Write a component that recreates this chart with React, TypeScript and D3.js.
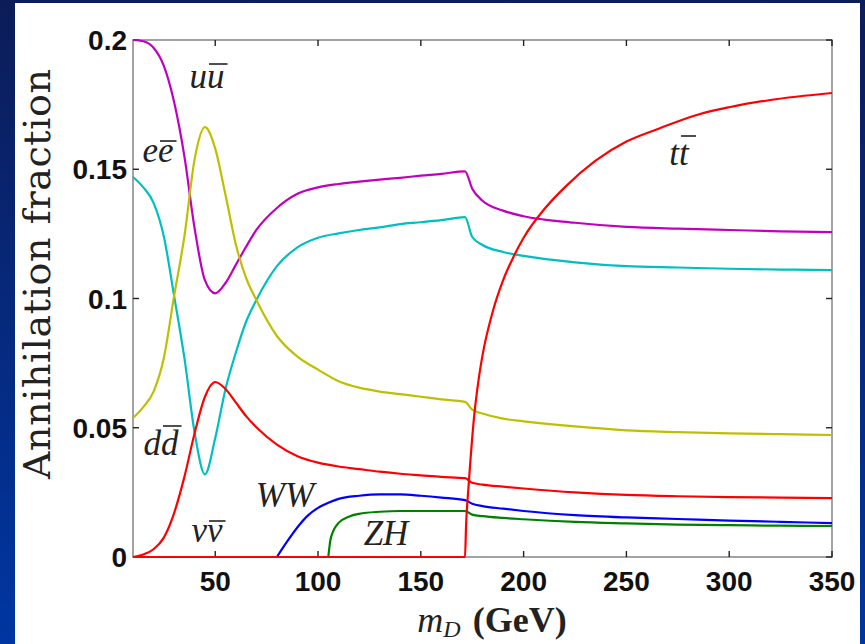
import React, { useEffect, useRef } from 'react';
import * as d3 from 'd3';

// dark matter mass (GeV) shared by the light-fermion channels
const massGrid = [10, 15, 20, 25, 30, 35, 40, 45, 50, 55, 60, 65, 70, 80, 90, 100, 110, 120, 130, 140, 150, 160, 171.5, 175, 180, 190, 200, 225, 250, 275, 300, 325, 350];
const uuFrac = [0.2, 0.1995, 0.197, 0.19, 0.176, 0.155, 0.127, 0.107, 0.102, 0.106, 0.113, 0.12, 0.1265, 0.135, 0.1405, 0.143, 0.1443, 0.1452, 0.146, 0.1467, 0.1475, 0.1482, 0.1492, 0.1425, 0.1378, 0.134, 0.1318, 0.1293, 0.1277, 0.127, 0.1265, 0.126, 0.1257];
const eeFrac = [0.147, 0.143, 0.137, 0.124, 0.101, 0.077, 0.048, 0.032, 0.046, 0.065, 0.079, 0.091, 0.0994, 0.1125, 0.1198, 0.1235, 0.1252, 0.1265, 0.1275, 0.1288, 0.1295, 0.1303, 0.1315, 0.1238, 0.1207, 0.118, 0.1165, 0.114, 0.1125, 0.112, 0.1115, 0.1112, 0.111];
const ddFrac = [0.0538, 0.058, 0.064, 0.077, 0.101, 0.124, 0.154, 0.1663, 0.158, 0.14, 0.121, 0.108, 0.0994, 0.0855, 0.0775, 0.0725, 0.068, 0.0655, 0.064, 0.063, 0.062, 0.061, 0.06, 0.057, 0.0555, 0.0535, 0.0525, 0.0505, 0.049, 0.0483, 0.0478, 0.0475, 0.0472];
const nuFrac = [0, 0.001, 0.003, 0.0075, 0.017, 0.031, 0.048, 0.062, 0.0677, 0.065, 0.0598, 0.0545, 0.0502, 0.0435, 0.039, 0.0365, 0.035, 0.034, 0.033, 0.0322, 0.0316, 0.031, 0.0305, 0.0287, 0.028, 0.0272, 0.0265, 0.025, 0.024, 0.0235, 0.0232, 0.023, 0.0228];

const wwMass = [80, 85, 90, 95, 100, 105, 110, 120, 130, 140, 150, 160, 171.5, 175, 180, 190, 200, 225, 250, 275, 300, 325, 350];
const wwFrac = [0, 0.006, 0.0115, 0.016, 0.019, 0.021, 0.0225, 0.0237, 0.0242, 0.0242, 0.0237, 0.023, 0.022, 0.0206, 0.0197, 0.0187, 0.0178, 0.0162, 0.0153, 0.0147, 0.0141, 0.0136, 0.0131];

const zhMass = [105, 106, 107, 108, 110, 115, 120, 130, 140, 150, 160, 171.5, 175, 180, 190, 200, 225, 250, 275, 300, 325, 350];
const zhFrac = [0, 0.0065, 0.0092, 0.011, 0.0132, 0.0156, 0.0167, 0.0175, 0.0178, 0.0178, 0.0178, 0.0178, 0.0164, 0.0158, 0.0151, 0.0146, 0.0136, 0.013, 0.0125, 0.0123, 0.0121, 0.012];

const ttMass = [10, 171.5, 172, 173, 174, 176, 178, 180, 185, 190, 195, 200, 210, 220, 235, 250, 265, 285, 300, 320, 350];
const ttFrac = [0, 0, 0.012, 0.025, 0.036, 0.055, 0.068, 0.078, 0.095, 0.107, 0.116, 0.1235, 0.1345, 0.143, 0.1533, 0.1607, 0.1655, 0.1712, 0.174, 0.1768, 0.1795];

const xTicks = [50, 100, 150, 200, 250, 300, 350];
const yTicks = [0, 0.05, 0.1, 0.15, 0.2];

const W = 865;
const H = 644;
const plot = { left: 133, right: 832, top: 40, bottom: 557 };

export default function App() {
  const ref = useRef<SVGSVGElement>(null);

  useEffect(() => {
    const svg = d3.select(ref.current);
    svg.selectAll('*').remove();

    const x = d3.scaleLinear().domain([10, 350]).range([plot.left, plot.right]);
    const y = d3.scaleLinear().domain([0, 0.2]).range([plot.bottom, plot.top]);

    // slide background
    const grad = svg.append('defs').append('linearGradient')
      .attr('id', 'bg').attr('x1', 0).attr('y1', 0).attr('x2', 0).attr('y2', 1);
    grad.append('stop').attr('offset', '0%').attr('stop-color', '#0c1c58');
    grad.append('stop').attr('offset', '100%').attr('stop-color', '#0036a2');
    svg.append('rect').attr('width', W).attr('height', H).attr('fill', 'url(#bg)');
    svg.append('rect').attr('x', 15).attr('y', 3).attr('width', 845).attr('height', H - 3).attr('fill', '#fff');

    // frame
    svg.append('rect')
      .attr('x', plot.left).attr('y', plot.top)
      .attr('width', plot.right - plot.left).attr('height', plot.bottom - plot.top)
      .attr('fill', 'none').attr('stroke', '#8c8c8c').attr('stroke-width', 1.6);

    const tk = svg.append('g').attr('stroke', '#222').attr('stroke-width', 1.4);
    xTicks.forEach(t => {
      tk.append('line').attr('x1', x(t)).attr('x2', x(t)).attr('y1', plot.bottom).attr('y2', plot.bottom - 6);
      tk.append('line').attr('x1', x(t)).attr('x2', x(t)).attr('y1', plot.top).attr('y2', plot.top + 6);
    });
    yTicks.forEach(t => {
      tk.append('line').attr('x1', plot.left).attr('x2', plot.left + 6).attr('y1', y(t)).attr('y2', y(t));
      tk.append('line').attr('x1', plot.right).attr('x2', plot.right - 6).attr('y1', y(t)).attr('y2', y(t));
    });

    const tickFont = '"Liberation Sans", Arial, sans-serif';
    svg.append('g').selectAll('text').data(xTicks).enter().append('text')
      .attr('x', d => x(d)).attr('y', 591)
      .attr('text-anchor', 'middle')
      .attr('font-family', tickFont).attr('font-weight', 'bold').attr('font-size', 28)
      .attr('fill', '#111')
      .text(d => d);
    svg.append('g').selectAll('text').data(yTicks).enter().append('text')
      .attr('x', 127).attr('y', d => y(d)).attr('dy', '0.36em')
      .attr('text-anchor', 'end')
      .attr('font-family', tickFont).attr('font-weight', 'bold').attr('font-size', 28)
      .attr('fill', '#111')
      .text(d => String(d));

    // curves
    const line = (xs: number[], ys: number[]) =>
      d3.line<number>()
        .x((d, i) => x(xs[i]))
        .y(d => y(d))
        .curve(d3.curveMonotoneX)(ys);

    const series = [
      { xs: massGrid, ys: uuFrac, color: '#bf00bf' },
      { xs: massGrid, ys: eeFrac, color: '#00bfbf' },
      { xs: massGrid, ys: ddFrac, color: '#bfbf00' },
      { xs: massGrid, ys: nuFrac, color: '#ff0000' },
      { xs: wwMass, ys: wwFrac, color: '#0000ff' },
      { xs: zhMass, ys: zhFrac, color: '#008000' },
      { xs: ttMass, ys: ttFrac, color: '#ff0000' },
    ];
    svg.append('g').selectAll('path').data(series).enter().append('path')
      .attr('d', s => line(s.xs, s.ys))
      .attr('fill', 'none')
      .attr('stroke', s => s.color)
      .attr('stroke-width', 2.2)
      .attr('stroke-linejoin', 'round');

    // channel labels, bar drawn over the antiparticle
    const labels = [
      { text: 'uu', bar: 24, x: 207, y: 88 },
      { text: 'ee', bar: 21, x: 158, y: 162 },
      { text: 'dd', bar: 29, x: 161, y: 455 },
      { text: 'νν', bar: 21, x: 207, y: 542 },
      { text: 'tt', bar: 29, x: 679, y: 165 },
      { text: 'WW', bar: 0, x: 285, y: 507 },
      { text: 'ZH', bar: 0, x: 386, y: 545 },
    ];
    const lg = svg.append('g');
    labels.forEach(l => {
      const t = lg.append('text')
        .attr('x', l.x).attr('y', l.y)
        .attr('text-anchor', 'middle')
        .attr('font-family', '"Liberation Serif", "Times New Roman", serif')
        .attr('font-style', 'italic').attr('font-size', 35)
        .attr('fill', '#222')
        .text(l.text);
      if (l.bar) {
        const node = t.node() as SVGTextElement;
        const ext = node.getExtentOfChar(l.text.length - 1);
        lg.append('line')
          .attr('x1', ext.x + 2).attr('x2', ext.x + Math.max(ext.width, 14) + 3)
          .attr('y1', l.y - l.bar).attr('y2', l.y - l.bar)
          .attr('stroke', '#222').attr('stroke-width', 1.6);
      }
    });

    // axis titles
    svg.append('text')
      .attr('transform', 'translate(50,274) rotate(-90)')
      .attr('text-anchor', 'middle')
      .attr('font-family', '"DejaVu Serif", serif').attr('font-size', 38)
      .attr('textLength', 410).attr('lengthAdjust', 'spacing')
      .attr('fill', '#222')
      .text('Annihilation fraction');

    const xt = svg.append('text')
      .attr('x', 492).attr('y', 632)
      .attr('text-anchor', 'middle')
      .attr('font-family', '"Liberation Serif", "Times New Roman", serif').attr('font-size', 36)
      .attr('fill', '#222');
    xt.append('tspan').attr('font-style', 'italic').text('m');
    xt.append('tspan').attr('font-style', 'italic').attr('font-size', 24).attr('dy', 5).text('D');
    xt.append('tspan').attr('dy', -5).attr('dx', 12).attr('font-weight', 'bold').text('(GeV)');
  }, []);

  return (
    <div style={{ position: 'absolute', left: 0, top: 0 }}>
      <svg ref={ref} width={W} height={H} style={{ display: 'block' }} />
    </div>
  );
}
